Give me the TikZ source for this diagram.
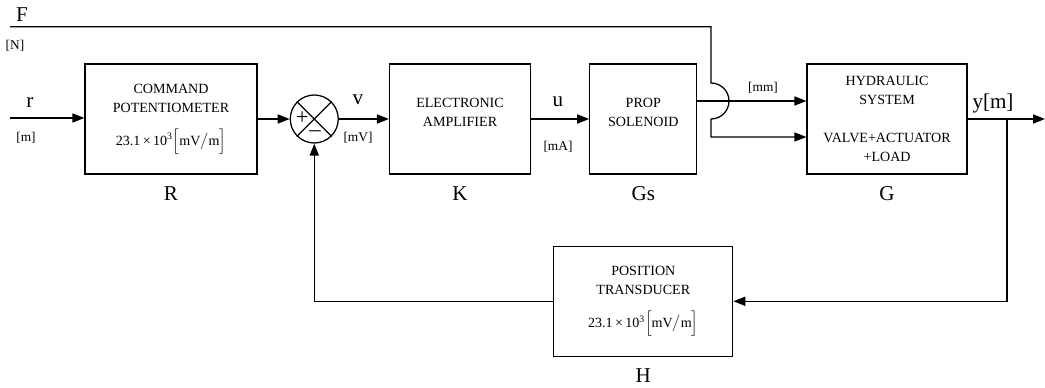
\documentclass[tikz,border=0pt]{standalone}
\usepackage{fontspec}
\setmainfont{Liberation Serif}
\usepackage{amsmath}
\usepackage{tikz}
\usetikzlibrary{arrows.meta, positioning, calc}
\tikzset{
  blk/.style={rectangle, draw=black, minimum height=2.75cm, align=center,
    font=\fontsize{10}{13.5}\selectfont, line width=0.9pt, inner sep=2pt},
  sumjn/.style={circle, draw=black, minimum size=1.2cm, line width=0.9pt, inner sep=0pt},
  biglbl/.style={font=\fontsize{15}{18}\selectfont, inner sep=2pt},
  unitlbl/.style={font=\fontsize{9.5}{11}\selectfont, inner sep=1pt},
  signlbl/.style={font=\fontsize{16}{18}\selectfont, inner sep=0pt},
  arrow/.style={-{Triangle[length=8.5pt, width=6.5pt]}, line width=0.9pt, color=black},
  line/.style={line width=0.9pt, color=black}
}
\newcommand{\gainval}{23.1\,×\,10\textsuperscript{3}$\Big[$mV$\big/$m$\Big]$}

\begin{document}
\begin{tikzpicture}
  \useasboundingbox (0,0) rectangle (26.125,-9.7);

  % Forward path
  \node[blk, minimum width=4.3cm] (cmd) at (4.275,-2.975)
    {COMMAND\\POTENTIOMETER\\[10pt]\gainval};
  \node[sumjn, right=0.8cm of cmd] (sum) {};
  \node[blk, minimum width=3.525cm, right=1.25cm of sum] (amp) {ELECTRONIC\\AMPLIFIER\\[-4pt]~};
  \node[blk, minimum width=2.675cm, right=1.45cm of amp] (sol) {PROP\\SOLENOID\\[-4pt]~};
  \node[blk, minimum width=4.0cm, right=2.725cm of sol] (hyd)
    {HYDRAULIC\\SYSTEM\\[14pt]VALVE+ACTUATOR\\+LOAD};

  % Feedback path
  \node[blk, minimum width=4.475cm, below=1.775cm of sol] (trans)
    {POSITION\\TRANSDUCER\\[10pt]\gainval};

  % Summing junction cross and signs
  \draw[line] (sum.north west) -- (sum.south east);
  \draw[line] (sum.north east) -- (sum.south west);
  \node[signlbl] (plus) at ($(sum.center)+(-0.3,0.03)$) {+};
  \node[signlbl] (minus) at ($(sum.center)+(0.02,-0.37)$) {–};

  % Free ends
  \coordinate (rin) at (0.25,-2.95);
  \coordinate (fin) at (0.25,-0.67);
  \coordinate (jmp) at (17.775,-2.525);
  \coordinate (yout) at (26.125,-2.975);
  \coordinate (br) at (25.175,-2.975);

  % Arrows
  \draw[arrow] (rin) -- (cmd.west |- rin);
  \draw[arrow] (cmd) -- (sum);
  \draw[arrow] (sum) -- (amp);
  \draw[arrow] (amp) -- (sol);
  \draw[arrow] ($(sol.east)+(0,0.45)$) -- ($(hyd.west)+(0,0.45)$);
  \draw[arrow] (fin) -| ($(jmp)+(0,0.45)$) arc[start angle=90, end angle=-90, radius=0.45]
    |- ($(hyd.west)+(0,-0.45)$);
  \draw[arrow] (hyd.east) -- (yout);
  \draw[arrow] (br) |- (trans.east);
  \draw[arrow] (trans.west) -| (sum.south);

  % Signal labels
  \node[biglbl] (Flab) at (0.55,-0.375) {F};
  \node[unitlbl] (Nlab) at (0.375,-1.15) {[N]};
  \node[biglbl] (rlab) at (0.75,-2.575) {r};
  \node[unitlbl] (mlab) at (0.65,-3.45) {[m]};
  \node[biglbl] (vlab) at (8.95,-2.5) {v};
  \node[unitlbl] (mVlab) at (8.95,-3.45) {[mV]};
  \node[biglbl] (ulab) at (13.95,-2.55) {u};
  \node[unitlbl] (mAlab) at (13.95,-3.675) {[mA]};
  \node[unitlbl] (mmlab) at (19.075,-2.2) {[mm]};
  \node[biglbl] (ylab) at (24.825,-2.575) {y[m]};

  % Block names
  \node[biglbl, below=0.22cm of cmd] (Rlab) {R};
  \node[biglbl, below=0.22cm of amp] (Klab) {K};
  \node[biglbl, below=0.22cm of sol] (Gslab) {Gs};
  \node[biglbl, below=0.22cm of hyd] (Glab) {G};
  \node[biglbl, below=0.22cm of trans] (Hlab) {H};
\end{tikzpicture}
\end{document}
